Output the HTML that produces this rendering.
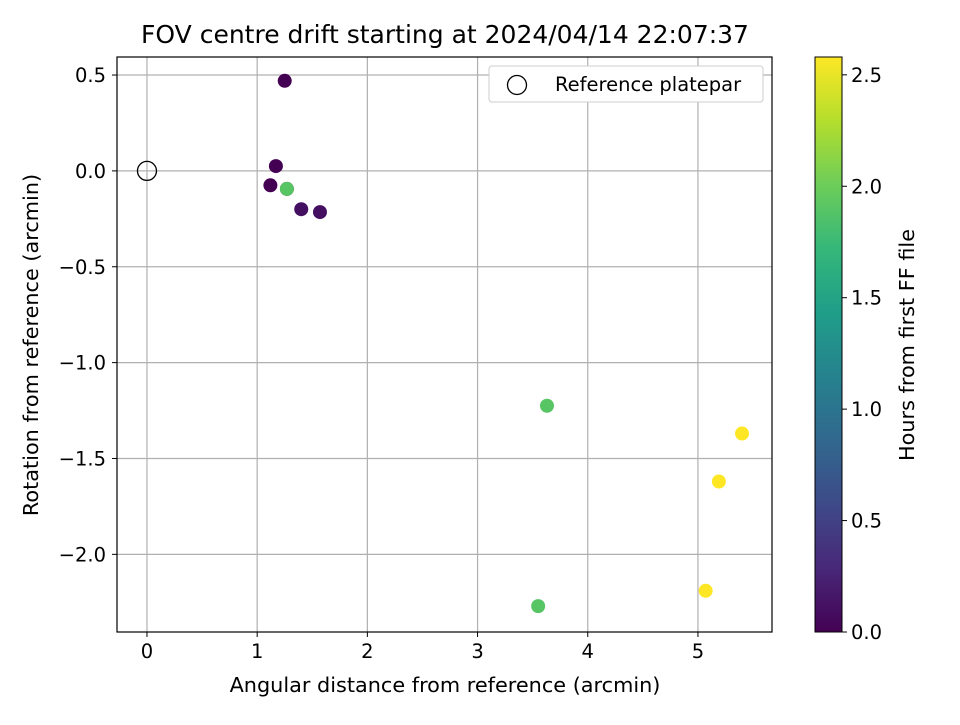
<!DOCTYPE html>
<html><head><meta charset="utf-8"><style>
body{margin:0;background:#fff;font-family:"Liberation Sans","DejaVu Sans",sans-serif;}
svg text{font-family:"DejaVu Sans","Liberation Sans",sans-serif;fill:#000;}
</style></head><body>
<svg id="c" width="960" height="720" viewBox="0 0 960 720"></svg>
<script>
const xVals=[1.25,1.17,1.12,1.40,1.57,1.27,1.27,3.63,3.55,5.40,5.19,5.07];
const yVals=[0.47,0.025,-0.075,-0.20,-0.215,-0.094,-0.094,-1.225,-2.27,-1.37,-1.62,-2.19];
const hours=[0.0,0.0,0.0,0.1,0.1,0.0,1.9,1.9,1.9,2.58,2.58,2.58];
const xTicks=[0,1,2,3,4,5];
const yTicks=[0.5,0,-0.5,-1.0,-1.5,-2.0];
const cTicks=[0,0.5,1.0,1.5,2.0,2.5];
const L=117,R=772,T=57,B=632;
const xMin=-0.272,xMax=5.672,yMin=-2.405,yMax=0.594,cMax=2.58;
const sx=v=>L+(v-xMin)/(xMax-xMin)*(R-L);
const sy=v=>B-(v-yMin)/(yMax-yMin)*(B-T);
const cy=v=>B-v/cMax*(B-T);
const vir=[[68,1,84],[72,40,120],[62,74,137],[49,104,142],[38,130,142],[31,158,137],[53,183,121],[109,205,89],[180,222,44],[253,231,37]];
function viridis(t){t=Math.max(0,Math.min(1,t));const f=t*9,i=Math.min(8,Math.floor(f)),r=f-i;const a=vir[i],b=vir[i+1];return`rgb(${a.map((c,k)=>Math.round(c+(b[k]-c)*r)).join(',')})`;}
const svg=document.getElementById('c');const NS='http://www.w3.org/2000/svg';
function el(t,at,p){const e=document.createElementNS(NS,t);for(const k in at)e.setAttribute(k,at[k]);(p||svg).appendChild(e);return e;}
function txt(s,at){const e=el('text',at);e.textContent=s;return e;}
const TK=19.5,LB=20.8;
xTicks.forEach(v=>{const g=el('line',{x1:sx(v),x2:sx(v),y1:T,y2:B,stroke:'#b0b0b0','stroke-width':1.2});

el('line',{x1:sx(v),x2:sx(v),y1:B,y2:B+5,stroke:'#000'});
const l=txt(String(v),{x:sx(v),y:B+26,'text-anchor':'middle','font-size':TK});
});
yTicks.forEach(v=>{const g=el('line',{x1:L,x2:R,y1:sy(v),y2:sy(v),stroke:'#b0b0b0','stroke-width':1.2});

el('line',{x1:L-5,x2:L,y1:sy(v),y2:sy(v),stroke:'#000'});
const l=txt(v.toFixed(1).replace('-','\u2212'),{x:L-11,y:sy(v)+7,'text-anchor':'end','font-size':TK});
});
xVals.forEach((x,i)=>{const c=el('circle',{cx:sx(x),cy:sy(yVals[i]),r:7,fill:viridis(hours[i]/cMax)});
});
const ref=el('circle',{cx:sx(0),cy:sy(0),r:9.5,fill:'none',stroke:'#000','stroke-width':1.3});

el('rect',{x:L,y:T,width:R-L,height:B-T,fill:'none',stroke:'#000','stroke-width':1.2});
const lg=el('rect',{x:489,y:66,width:274,height:36,rx:3,fill:'#fff',stroke:'#ccc'});

el('circle',{cx:517,cy:85,r:9.5,fill:'none',stroke:'#000','stroke-width':1.3});
txt('Reference platepar',{x:555,y:91,'font-size':TK});
txt('FOV centre drift starting at 2024/04/14 22:07:37',{x:445,y:43,'text-anchor':'middle','font-size':25});
txt('Angular distance from reference (arcmin)',{x:445,y:692,'text-anchor':'middle','font-size':LB});
txt('Rotation from reference (arcmin)',{x:0,y:0,'text-anchor':'middle','font-size':LB,transform:'translate(38,345) rotate(-90)'});
const defs=el('defs',{});const gr=el('linearGradient',{id:'vg',x1:0,y1:1,x2:0,y2:0},defs);
vir.forEach((c,i)=>el('stop',{offset:i/9,'stop-color':`rgb(${c})`},gr));
const cb=el('rect',{x:815,y:T,width:27,height:B-T,fill:'url(#vg)',stroke:'#000','stroke-width':1});

cTicks.forEach(v=>{el('line',{x1:842,x2:847,y1:cy(v),y2:cy(v),stroke:'#000'});
const l=txt(v.toFixed(1),{x:851,y:cy(v)+7,'font-size':TK});});
txt('Hours from first FF file',{x:0,y:0,'text-anchor':'middle','font-size':LB,transform:'translate(914,345) rotate(-90)'});
</script>
</body></html>
